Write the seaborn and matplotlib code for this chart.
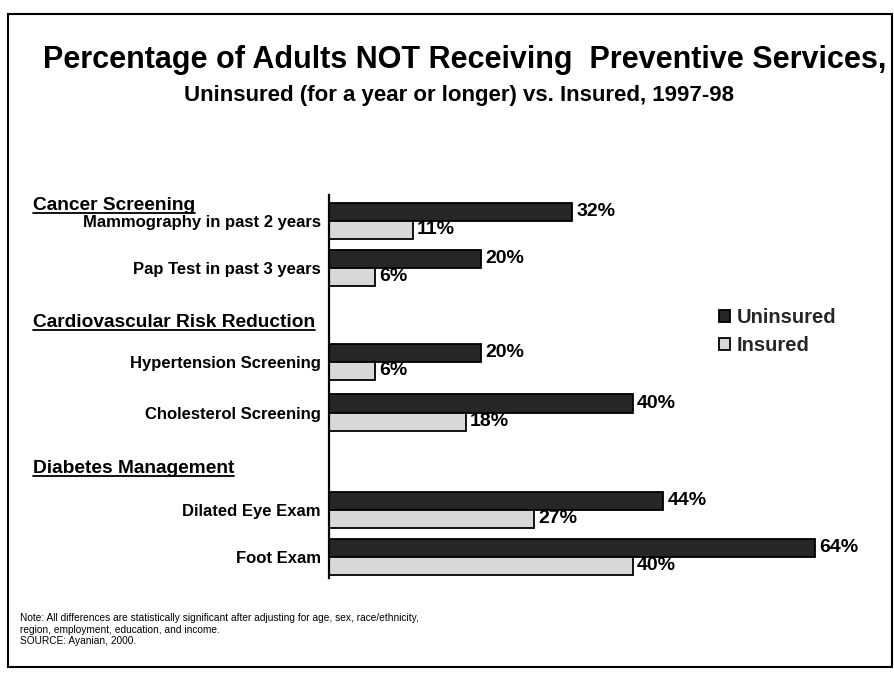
import matplotlib
matplotlib.use("Agg")
import matplotlib.pyplot as plt
import matplotlib.transforms as mtransforms
from matplotlib.lines import Line2D
from matplotlib.patches import Rectangle
import seaborn as sns
import pandas as pd

# ---- data -------------------------------------------------------------
services = [
    "Mammography in past 2 years",
    "Pap Test in past 3 years",
    "Hypertension Screening",
    "Cholesterol Screening",
    "Dilated Eye Exam",
    "Foot Exam",
]
groups = ["Cancer Screening", "Cardiovascular Risk Reduction", "Diabetes Management"]
series = ["Uninsured", "Insured"]
uninsured = [32, 20, 20, 40, 44, 64]
insured = [11, 6, 6, 18, 27, 40]

title = "Percentage of Adults NOT Receiving  Preventive Services,"
subtitle = "Uninsured (for a year or longer) vs. Insured, 1997-98"
note = ("Note: All differences are statistically significant after adjusting for age, sex, race/ethnicity,\n"
        "region, employment, education, and income.\n"
        "SOURCE: Ayanian, 2000.")

# ---- layout: row centres in bar-pair units, with gaps between groups ----
row_pos = [0, 1, 3.0, 4.08, 6.15, 7.15]
header_pos = [-0.33, 2.17, 5.26]

df = pd.DataFrame({
    "service": services * 2,
    "pct": uninsured + insured,
    "status": [series[0]] * len(services) + [series[1]] * len(services),
    "row": row_pos * 2,
})

sns.set_theme(style="white")
plt.rcParams["font.family"] = ["Liberation Sans", "DejaVu Sans"]

W, H = 894, 684
fig = plt.figure(figsize=(W / 100, H / 100), dpi=100)
fig.patch.set_facecolor("white")
ax = fig.add_axes([329 / W, 1 - 578 / H, 532 / W, 383 / H])

sns.barplot(
    data=df, x="pct", y="row", hue="status", hue_order=series,
    orient="h", native_scale=True, width=0.77, saturation=1,
    palette={"Uninsured": "#262626", "Insured": "#d8d8d8"},
    edgecolor="black", linewidth=1.3, ax=ax,
)

for cont in ax.containers:
    ax.bar_label(cont, fmt="{:.0f}%", padding=3, fontsize=14,
                 fontweight="bold", color="black")

ax.set_xlim(0, 70)
ax.set_ylim(7.6, -0.55)
ax.set_xticks([])
ax.set_yticks(row_pos)
ax.set_yticklabels(services, fontsize=12, fontweight="bold", color="black")
ax.tick_params(axis="y", length=0, pad=6)
ax.set_xlabel("")
ax.set_ylabel("")
for s in ["top", "right", "bottom"]:
    ax.spines[s].set_visible(False)
ax.spines["left"].set_color("black")
ax.spines["left"].set_linewidth(1.6)
ax.set_facecolor("white")

handles, labels = ax.get_legend_handles_labels()
ax.legend(handles, labels, loc="upper left",
          bbox_to_anchor=(719 / W, 1 - 308 / H), bbox_transform=fig.transFigure,
          frameon=False, borderpad=0, borderaxespad=0,
          handlelength=0.55, handleheight=0.55, handletextpad=0.35,
          labelspacing=0.45, prop={"weight": "bold", "size": 14.5})

# group headers, left of the axis, underlined
blend = mtransforms.blended_transform_factory(fig.transFigure, ax.transData)
headers = [ax.text(33 / W, y, g, transform=blend, ha="left", va="center",
                   fontsize=13.8, fontweight="bold", color="black")
           for g, y in zip(groups, header_pos)]

fig.text(465 / W, 1 - 68 / H, title, ha="center", va="baseline",
         fontsize=22, fontweight="bold", color="black")
fig.text(459 / W, 1 - 101 / H, subtitle, ha="center", va="baseline",
         fontsize=16, fontweight="bold", color="black")
fig.text(20 / W, 1 - 613 / H, note, ha="left", va="top",
         fontsize=7.3, linespacing=1.2, color="black")

fig.add_artist(Rectangle((8 / W, 1 - 667 / H), (892 - 8) / W, (667 - 14) / H,
                         transform=fig.transFigure, fill=False,
                         edgecolor="black", linewidth=1.5))

fig.canvas.draw()
renderer = fig.canvas.get_renderer()
inv = fig.transFigure.inverted()
for t in headers:
    bb = t.get_window_extent(renderer)
    (x0, y0), (x1, _) = inv.transform([(bb.x0, bb.y0 + 1), (bb.x1, bb.y0 + 1)])
    fig.add_artist(Line2D([x0, x1], [y0, y0], transform=fig.transFigure,
                          color="black", linewidth=1.3))

fig.savefig("out.png", dpi=100, facecolor="white")
